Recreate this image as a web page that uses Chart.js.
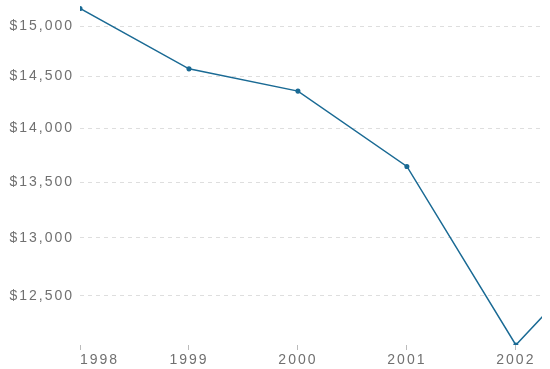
<!DOCTYPE html>
<html>
<head>
<meta charset="utf-8">
<script src="https://cdn.jsdelivr.net/npm/chart.js@4"></script>
<style>
  html, body { margin: 0; padding: 0; background: #fff; }
  #wrap { width: 550px; height: 369px; }
</style>
</head>
<body>
<div id="wrap"><canvas id="myChart"></canvas></div>
<script>
const years = [1998, 1999, 2000, 2001, 2002, 2003];
const values = [15183, 14575, 14357, 13643, 12090, 13080];
const yTicks = [12500, 13000, 13500, 14000, 14500, 15000];
const xTicks = [1998, 1999, 2000, 2001, 2002];

const lineColor = "rgb(26, 106, 148)";
const textColor = "#707070";
const tickFont = { family: "Liberation Sans", size: 14 };

const ctx = document.getElementById("myChart");
new Chart(ctx, {
  type: "line",
  data: {
    datasets: [
      {
        data: years.map((y, i) => ({ x: y, y: values[i] })),
        borderColor: lineColor,
        backgroundColor: lineColor,
        borderWidth: 1.5,
        pointRadius: 1.8,
        pointHoverRadius: 3,
        tension: 0,
      },
    ],
  },
  options: {
    responsive: true,
    maintainAspectRatio: false,
    animation: false,
    layout: { padding: { top: 0, right: 8, left: 0, bottom: 0 } },
    plugins: { legend: { display: false }, tooltip: { enabled: false } },
    scales: {
      x: {
        type: "linear",
        min: 1998,
        max: 2002.24,
        afterBuildTicks: (axis) => {
          // extra empty tick at the right edge so "inner" only shifts the first label
          axis.ticks = xTicks.map((v) => ({ value: v })).concat([{ value: 2002.24 }]);
        },
        afterFit: (scale) => {
          scale.height = 24;
          scale.paddingLeft = 0;
          scale.paddingRight = 0;
        },
        border: { display: false },
        grid: {
          drawOnChartArea: false,
          drawTicks: true,
          tickLength: 5,
          tickColor: (c) => (c.index < xTicks.length ? "#bbb" : "rgba(0,0,0,0)"),
        },
        ticks: {
          align: "inner",
          padding: 2,
          maxRotation: 0,
          autoSkip: false,
          color: textColor,
          font: tickFont,
          callback: (v) => (xTicks.includes(v) ? String(v) : ""),
        },
      },
      y: {
        type: "logarithmic",
        min: 12090,
        max: 15224,
        afterBuildTicks: (axis) => {
          axis.ticks = yTicks.map((v) => ({ value: v }));
        },
        afterFit: (scale) => {
          scale.width = 80;
          scale.paddingTop = 0;
          scale.paddingBottom = 0;
        },
        border: { display: false, dash: [4, 4] },
        grid: {
          drawTicks: false,
          color: "#dedede",
          lineWidth: 1,
        },
        ticks: {
          padding: 6,
          color: textColor,
          font: tickFont,
          callback: (v) => "$" + Number(v).toLocaleString("en-US"),
        },
      },
    },
  },
  plugins: [
    {
      id: "spacedText",
      beforeInit: (chart) => { chart.ctx.letterSpacing = "2px"; },
      beforeDraw: (chart) => { chart.ctx.letterSpacing = "2px"; },
    },
  ],
});
</script>
</body>
</html>
